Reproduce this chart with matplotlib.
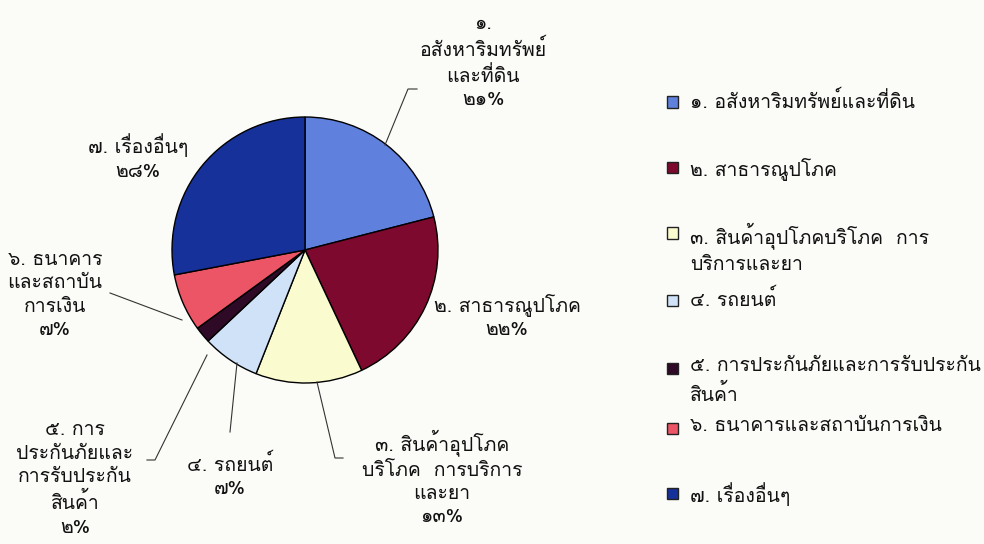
import matplotlib
matplotlib.use("Agg")
import matplotlib.pyplot as plt
from matplotlib import font_manager
from matplotlib.patches import Rectangle

# ข้อมูล
labels = [
    "๑. อสังหาริมทรัพย์และที่ดิน",
    "๒. สาธารณูปโภค",
    "๓. สินค้าอุปโภคบริโภค  การบริการและยา",
    "๔. รถยนต์",
    "๕. การประกันภัยและการรับประกันสินค้า",
    "๖. ธนาคารและสถาบันการเงิน",
    "๗. เรื่องอื่นๆ",
]
values = [21, 22, 13, 7, 2, 7, 28]
pct_text = ["๒๑%", "๒๒%", "๑๓%", "๗%", "๒%", "๗%", "๒๘%"]
# ป้ายบนแผนภูมิ (ตัดบรรทัดแบบต้นฉบับ)
pie_labels = [
    "๑.\nอสังหาริมทรัพย์\nและที่ดิน",
    "๒. สาธารณูปโภค",
    "๓. สินค้าอุปโภค\nบริโภค  การบริการ\nและยา",
    "๔. รถยนต์",
    "๕. การ\nประกันภัยและ\nการรับประกัน\nสินค้า",
    "๖. ธนาคาร\nและสถาบัน\nการเงิน",
    "๗. เรื่องอื่นๆ",
]
# ข้อความในคำอธิบายสัญลักษณ์
legend_labels = [
    "๑. อสังหาริมทรัพย์และที่ดิน",
    "๒. สาธารณูปโภค",
    "๓. สินค้าอุปโภคบริโภค  การ\nบริการและยา",
    "๔. รถยนต์",
    "๕. การประกันภัยและการรับประกัน\nสินค้า",
    "๖. ธนาคารและสถาบันการเงิน",
    "๗. เรื่องอื่นๆ",
]
colors = ["#5f80dc", "#7d0a2e", "#fbfbd0", "#cfe2f7", "#2e0a26", "#ec5566", "#17319a"]


# หาแบบอักษรที่มีอักษรไทย
def thai_font():
    from fontTools.ttLib import TTFont
    for f in font_manager.fontManager.ttflist:
        try:
            font = TTFont(f.fname, fontNumber=0, lazy=True)
            if 0x0E01 in font.getBestCmap():
                return f.name
        except Exception:
            continue
    return "DejaVu Sans"


FONT = thai_font()
plt.rcParams["font.family"] = [FONT, "DejaVu Sans"]

BG = "#fbfbf8"
R_PX = 133.0
CX, CY = 305.0, 250.0
W, H = 984, 544
FS = 14

fig = plt.figure(figsize=(9.84, 5.44), dpi=100, facecolor=BG)
ax = fig.add_axes([0, 0, 640 / W, 1])
ax.set_facecolor(BG)

ax.pie(values, colors=colors, startangle=90, counterclock=False, radius=1.0,
       wedgeprops=dict(edgecolor="black", linewidth=1.0))

# pie() ตั้งขอบเขตแกนเอง จึงต้องตั้งใหม่หลังวาด
ax.set_xlim(-CX / R_PX, (640 - CX) / R_PX)
ax.set_ylim(-(H - CY) / R_PX, CY / R_PX)
ax.set_aspect("equal")
ax.axis("off")


def px(x, y):
    return ((x - CX) / R_PX, (CY - y) / R_PX)


# ตำแหน่งป้าย (พิกเซล) และเส้นชี้
label_pos = [(483, 62), (507, 316), (442, 478), (230, 476), (75, 479), (55, 295), (138, 157)]
leaders = [
    [(385, 145), (408, 89), (417, 89)],
    None,
    [(317, 382), (335, 458), (343, 458)],
    [(237, 363), (230, 432)],
    [(207, 355), (155, 460), (147, 460)],
    [(182, 320), (110, 293)],
    None,
]

for i in range(len(values)):
    x, y = px(*label_pos[i])
    ax.text(x, y, pie_labels[i] + "\n" + pct_text[i], ha="center", va="center",
            fontsize=FS, linespacing=1.38, color="#111111")
    if leaders[i]:
        pts = [px(a, b) for a, b in leaders[i]]
        ax.plot([p[0] for p in pts], [p[1] for p in pts], color="#333333", lw=0.8)

# คำอธิบายสัญลักษณ์
legend_y = [102, 168, 233, 300, 368, 428, 493]
for i, lab in enumerate(legend_labels):
    y = legend_y[i]
    fig.patches.append(Rectangle((667 / W, 1 - (y + 5.5) / H), 11 / W, 11 / H,
                                 transform=fig.transFigure, facecolor=colors[i],
                                 edgecolor="#222222", linewidth=1.0))
    fig.text(690 / W, 1 - (y - 11) / H, lab, ha="left", va="top",
             fontsize=FS, linespacing=1.5, color="#111111")

fig.savefig("out.png", dpi=100, facecolor=BG)
